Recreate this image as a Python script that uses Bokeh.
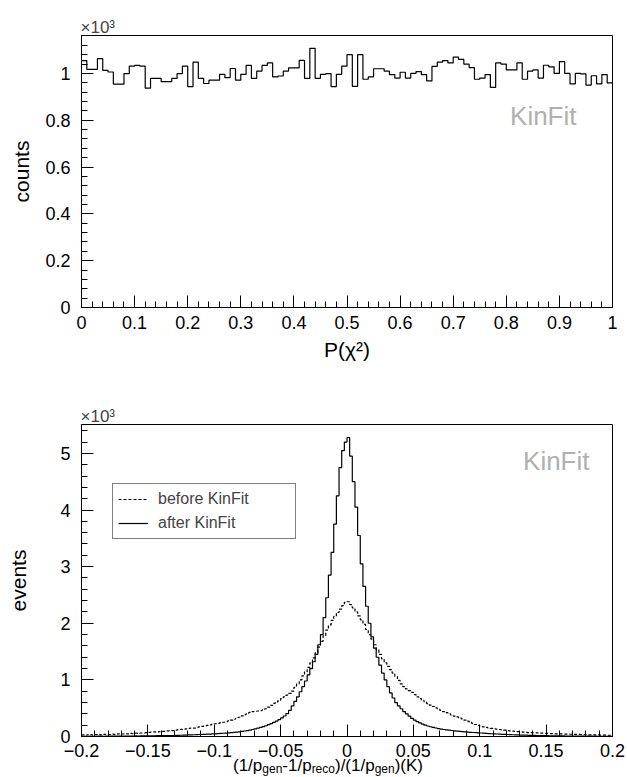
import numpy as np
from bokeh.plotting import figure
from bokeh.layouts import column
from bokeh.models import FixedTicker, Range1d, Label, Legend, LegendItem, Div
from bokeh.embed import file_html
from bokeh.resources import INLINE

FONT = "Liberation Sans"

# ---------------- data: top panel (P(chi2), 100 bins on [0,1]) ----------------
pchi2_lo, pchi2_hi = 0.0, 1.0
pchi2_counts = [1055, 1017, 1017, 1063, 1013, 1006, 954, 954, 999, 1031,
                1034, 1031, 937, 979, 979, 965, 965, 979, 999, 1031,
                944, 1048, 979, 957, 971, 971, 996, 982, 1021, 971,
                996, 1034, 979, 1010, 1034, 1045, 985, 989, 1010, 1024,
                1024, 1056, 979, 1107, 979, 996, 999, 944, 996, 1031,
                1080, 945, 1080, 975, 985, 1020, 1020, 1010, 995, 980,
                1005, 980, 1000, 1008, 995, 968, 1030, 1048, 1055, 1045,
                1070, 1060, 1040, 1025, 975, 980, 995, 940, 1045, 1040,
                1015, 1015, 1045, 975, 1010, 1015, 980, 1035, 1028, 1000,
                1050, 1000, 955, 1000, 998, 950, 990, 955, 995, 960]
pchi2_ymax = 1162
pchi2_xticks = [0.0, 0.1, 0.2, 0.3, 0.4, 0.5, 0.6, 0.7, 0.8, 0.9, 1.0]
pchi2_xtick_labels = ["0", "0.1", "0.2", "0.3", "0.4", "0.5", "0.6", "0.7", "0.8", "0.9", "1"]
counts_yticks = [0, 200, 400, 600, 800, 1000]
counts_ytick_labels = ["0", "0.2", "0.4", "0.6", "0.8", "1"]

# ---------------- data: bottom panel (resolution, 200 bins on [-0.2,0.2]) ----------------
res_lo, res_hi = -0.2, 0.2
res_before = [28, 22, 30, 35, 26, 33, 38, 30, 36, 40, 35, 42, 38, 45, 48, 44, 50, 47, 55, 52,
              58, 55, 62, 60, 68, 72, 78, 80, 76, 86, 90, 92, 98, 104, 102, 112, 118, 125, 122, 134,
              142, 150, 148, 160, 170, 178, 188, 196, 205, 215, 225, 232, 240, 252, 262, 275, 290, 305, 322, 340,
              365, 385, 405, 425, 440, 445, 450, 455, 470, 490, 520, 550, 585, 610, 640, 670, 700, 730, 760, 800,
              870, 930, 1000, 1070, 1140, 1220, 1300, 1390, 1480, 1580, 1680, 1780, 1880, 1970, 2050, 2120, 2190, 2250, 2310, 2370,
              2380, 2330, 2270, 2200, 2130, 2060, 1980, 1890, 1800, 1720, 1620, 1530, 1450, 1370, 1300, 1240, 1180, 1120, 1060, 990,
              930, 880, 840, 810, 780, 740, 700, 670, 640, 610, 580, 555, 530, 505, 480, 460, 440, 420, 400, 380,
              360, 345, 330, 310, 290, 270, 250, 230, 212, 195, 180, 170, 160, 150, 142, 136, 130, 124, 118, 112,
              105, 100, 95, 90, 86, 82, 78, 74, 70, 68, 66, 64, 60, 58, 56, 55, 52, 50, 48, 48,
              46, 44, 42, 43, 40, 38, 36, 37, 34, 33, 32, 30, 31, 28, 27, 26, 25, 24, 22, 22]
res_after = [3, 4, 2, 5, 4, 3, 6, 5, 4, 6, 5, 7, 6, 5, 8, 7, 6, 8, 9, 8,
             10, 9, 11, 10, 12, 11, 13, 12, 14, 15, 14, 16, 17, 18, 17, 19, 21, 22, 24, 25,
             27, 29, 31, 33, 35, 37, 39, 41, 43, 45, 48, 51, 54, 57, 61, 65, 69, 73, 78, 83,
             90, 97, 105, 114, 124, 135, 147, 160, 174, 190, 208, 228, 250, 272, 298, 328, 362, 405, 460, 540,
             620, 700, 790, 880, 980, 1090, 1200, 1320, 1450, 1620, 1800, 2100, 2450, 2850, 3250, 3750, 4250, 4750, 5050, 5200,
             5280, 4950, 4500, 4050, 3550, 3050, 2650, 2300, 2000, 1760, 1560, 1400, 1260, 1120, 1000, 880, 770, 680, 600, 540,
             490, 440, 400, 360, 320, 290, 262, 240, 220, 200, 185, 172, 160, 150, 140, 132, 124, 118, 112, 106,
             100, 95, 90, 86, 82, 78, 74, 71, 68, 65, 62, 58, 55, 52, 49, 46, 44, 41, 39, 37,
             35, 33, 31, 29, 28, 26, 24, 23, 21, 20, 19, 18, 17, 16, 15, 14, 13, 12, 12, 11,
             10, 10, 9, 9, 8, 8, 7, 7, 6, 6, 6, 5, 5, 5, 4, 4, 4, 3, 3, 3]
res_ymax = 5510
res_xticks = [-0.2, -0.15, -0.1, -0.05, 0.0, 0.05, 0.1, 0.15, 0.2]
res_xtick_labels = ["\u22120.2", "\u22120.15", "\u22120.1", "\u22120.05", "0", "0.05", "0.1", "0.15", "0.2"]
events_yticks = [0, 1000, 2000, 3000, 4000, 5000]
events_ytick_labels = ["0", "1", "2", "3", "4", "5"]
legend_labels = ["before KinFit", "after KinFit"]

W = 627
H1, H2 = 388, 389
L, R = 81, 15
FS = "18px"
TFS = "21px"


def style(p):
    p.grid.visible = False
    p.outline_line_color = "black"
    p.outline_line_width = 1
    p.background_fill_color = "white"
    p.border_fill_color = "white"
    for ax in (p.xaxis[0], p.yaxis[0]):
        ax.axis_line_color = "black"
        ax.major_tick_line_color = "black"
        ax.minor_tick_line_color = "black"
        ax.major_tick_in = 12
        ax.major_tick_out = 0
        ax.minor_tick_in = 6
        ax.minor_tick_out = 0
        ax.major_label_text_font = FONT
        ax.major_label_text_font_size = FS
        ax.major_label_text_color = "black"
        ax.axis_label_text_font = FONT
        ax.axis_label_text_font_size = TFS
        ax.axis_label_text_font_style = "normal"
        ax.axis_label_text_color = "black"
    p.xaxis.major_label_standoff = 8
    p.yaxis.major_label_standoff = 11


def hist_step(p, lo, hi, counts, **kw):
    n = len(counts)
    edges = np.linspace(lo, hi, n + 1)
    y = list(counts) + [counts[-1]]
    return p.step(x=edges, y=y, mode="after", **kw)


def exponent_label(p, lo, hi, fw):
    # "x10^3" just above the top-left corner of the frame (side panel => not clipped)
    p.add_layout(Label(x=lo - 1 * (hi - lo) / fw, y=8, x_units="data", y_units="screen",
                       text="\u00d710\u00b3", text_font=FONT, text_font_size="17px",
                       text_baseline="alphabetic", text_align="left"), "above")


# ---------------- top figure ----------------
T1, B1 = 35, 81
p1 = figure(width=W, height=H1, output_backend="svg", toolbar_location=None,
            x_range=Range1d(pchi2_lo, pchi2_hi), y_range=Range1d(0, pchi2_ymax),
            min_border_left=L, min_border_right=R, min_border_top=T1, min_border_bottom=B1)
style(p1)
p1.xaxis.ticker = FixedTicker(ticks=pchi2_xticks,
                              minor_ticks=list(np.round(np.arange(0, 1.0001, 0.02), 4)))
p1.xaxis.major_label_overrides = dict(zip(pchi2_xticks, pchi2_xtick_labels))
p1.yaxis.ticker = FixedTicker(ticks=counts_yticks, minor_ticks=list(range(0, 1161, 40)))
p1.yaxis.major_label_overrides = dict(zip(counts_yticks, counts_ytick_labels))
p1.xaxis.axis_label = "P(\u03c7\u00b2)"
p1.yaxis.axis_label = "counts"
p1.xaxis.axis_label_standoff = 6
p1.yaxis.axis_label_standoff = 9
hist_step(p1, pchi2_lo, pchi2_hi, pchi2_counts, line_color="black", line_width=1.2)
fw1 = W - L - R
fh1 = H1 - T1 - B1
exponent_label(p1, pchi2_lo, pchi2_hi, fw1)
p1.add_layout(Label(x=fw1 - 36, y=192, x_units="screen", y_units="screen", text="KinFit",
                    text_font=FONT, text_font_size="26px", text_color="#b0b0b0",
                    text_align="right", text_baseline="alphabetic"))

# ---------------- bottom figure ----------------
T2, B2 = 36, 41
p2 = figure(width=W, height=H2, output_backend="svg", toolbar_location=None,
            x_range=Range1d(res_lo, res_hi), y_range=Range1d(0, res_ymax),
            min_border_left=L, min_border_right=R, min_border_top=T2, min_border_bottom=B2)
style(p2)
p2.xaxis.major_label_standoff = 7
p2.xaxis.ticker = FixedTicker(ticks=res_xticks,
                              minor_ticks=list(np.round(np.arange(-0.2, 0.2001, 0.01), 4)))
p2.xaxis.major_label_overrides = dict(zip(res_xticks, res_xtick_labels))
p2.yaxis.ticker = FixedTicker(ticks=events_yticks, minor_ticks=list(range(0, 5501, 200)))
p2.yaxis.major_label_overrides = dict(zip(events_yticks, events_ytick_labels))
p2.yaxis.axis_label = "events"
p2.yaxis.axis_label_standoff = 27
fw2 = W - L - R
fh2 = H2 - T2 - B2

r_before = hist_step(p2, res_lo, res_hi, res_before, line_color="black", line_width=1.2, line_dash="3 2")
r_after = hist_step(p2, res_lo, res_hi, res_after, line_color="black", line_width=1.2)

legend = Legend(items=[LegendItem(label=legend_labels[0], renderers=[r_before]),
                       LegendItem(label=legend_labels[1], renderers=[r_after])],
                location=(31, 197), orientation="vertical",
                label_text_font=FONT, label_text_font_size="16px",
                glyph_width=30, glyph_height=20, label_height=20, label_width=132,
                label_standoff=10, padding=5, spacing=4, margin=0,
                border_line_color="black", border_line_width=1,
                background_fill_color="white", background_fill_alpha=1.0)
p2.add_layout(legend)

exponent_label(p2, res_lo, res_hi, fw2)
p2.add_layout(Label(x=fw2 - 23, y=276, x_units="screen", y_units="screen", text="KinFit",
                    text_font=FONT, text_font_size="26px", text_color="#b0b0b0",
                    text_align="right", text_baseline="alphabetic"))

# x-axis title of the bottom panel (with subscripts), as real HTML text just below the tick labels
DIV_H = 22
SUBSTYLE = "font-size:12px; vertical-align:-2px; line-height:0;"
title_html = (
    f'<div style="font-family:\'{FONT}\'; font-size:17px; color:black; text-align:left; '
    f'margin-left:233px; padding-top:2px; line-height:17px; white-space:nowrap;">'
    f'(1/p<span style="{SUBSTYLE}">gen</span>-1/p<span style="{SUBSTYLE}">reco</span>)'
    f'/(1/p<span style="{SUBSTYLE}">gen</span>)(K)</div>'
)
title_div = Div(text=title_html, width=W, height=DIV_H, margin=(-DIV_H, 0, 0, 0),
                styles={"position": "relative", "z-index": "10", "background": "transparent"})

layout = column(p1, p2, title_div, spacing=0)
open("out.html", "w").write(file_html(layout, INLINE))
